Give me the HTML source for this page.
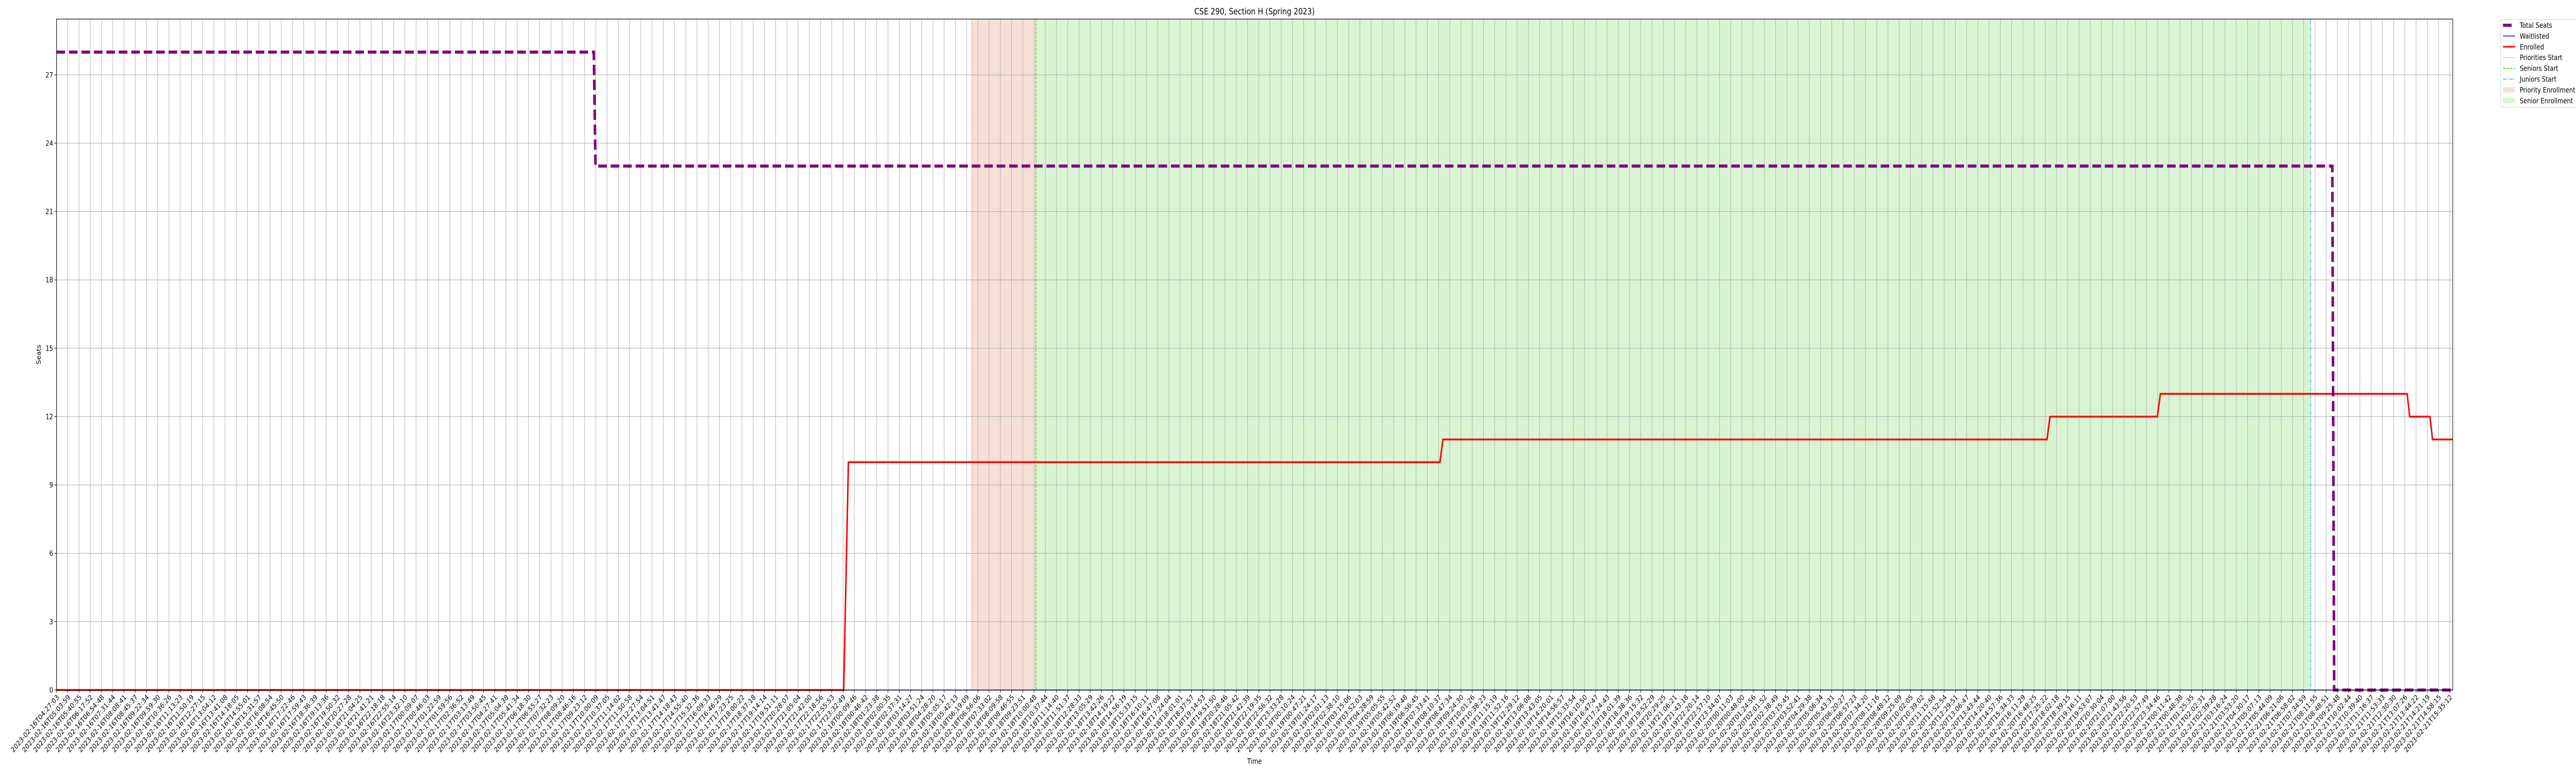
<!DOCTYPE html>
<html><head><meta charset="utf-8"><style>
html,body{margin:0;padding:0;background:#fff;width:100vw;height:100vh;overflow:hidden}
svg{display:block;width:100vw;height:100vh;overflow:hidden;font-family:"DejaVu Sans","Liberation Sans",sans-serif}
</style></head><body>
<svg id="chart" viewBox="0 0 6000 1500" preserveAspectRatio="none" xmlns="http://www.w3.org/2000/svg">
<rect width="6000" height="1500" fill="#fff"/>
<g id="bands"></g>
<g id="grid"></g>
<g id="vlines"></g>
<g id="series"></g>
<g id="axes"></g>
<text x="2922" y="28" font-size="16.7" text-anchor="middle">CSE 290, Section H (Spring 2023)</text>
<text x="2922" y="1482" font-size="13.9" text-anchor="middle">Time</text>
<text transform="translate(95,688) rotate(-90)" font-size="13.9" text-anchor="middle">Seats</text>
<g id="legend"></g>
</svg>
<script>
// ---- data (x in hours since 2023-02-16T04:27:03) ----
const seatHours   = [0, 29.44, 29.53, 124.7, 124.8, 131.3];
const seatValues  = [28, 28, 23, 23, 0, 0];
const enrHours    = [0, 43.13, 43.39, 75.80, 75.97, 109.07, 109.23, 115.11, 115.28, 128.8, 128.94, 130.05, 130.19, 131.3];
const enrValues   = [0, 0, 10, 10, 11, 11, 12, 12, 13, 13, 12, 12, 11, 11];
const waitHours   = [0, 131.3];
const waitValues  = [0, 0];
const prioStart   = 50.14;
const seniorStart = 53.67;
const juniorStart = 123.51;
const yTicks      = [0, 3, 6, 9, 12, 15, 18, 21, 24, 27];
const tickCount   = 214;
const tickStartMs = Date.UTC(2023,1,16,4,27,3);
const tickEndMs   = Date.UTC(2023,1,21,15,35,12);
const tickLabels  = [];
for (let i=0;i<tickCount;i++){
  const d=new Date(tickStartMs+(tickEndMs-tickStartMs)*i/(tickCount-1));
  tickLabels.push(d.toISOString().slice(0,19));
}
const tickHours = tickLabels.map(s=>(Date.parse(s+'Z')-tickStartMs)/3600000);

// ---- axes ----
const L=131.7,R=5713,T=37,B=1339;
const xMin=0,xMax=131.3,yMin=0,yMax=29.45;
const X=h=>L+(h-xMin)/(xMax-xMin)*(R-L);
const Y=v=>B-(v-yMin)/(yMax-yMin)*(B-T);
const NS='http://www.w3.org/2000/svg';
function mk(tag,attrs,parent){const e=document.createElementNS(NS,tag);for(const k in attrs)e.setAttribute(k,attrs[k]);parent.appendChild(e);return e;}
const bands=document.getElementById('bands'),grid=document.getElementById('grid'),vl=document.getElementById('vlines'),ser=document.getElementById('series'),ax=document.getElementById('axes'),lg=document.getElementById('legend');

let r=mk('rect',{x:X(prioStart),y:T,width:X(seniorStart)-X(prioStart),height:B-T,fill:'#f6dfd4'},bands);


r=mk('rect',{x:X(seniorStart),y:T,width:X(juniorStart)-X(seniorStart),height:B-T,fill:'#d9f4d2'},bands);



tickHours.forEach((h,i)=>{
  const x=X(h);
  const g=mk('line',{x1:x,x2:x,y1:T,y2:B,stroke:'#b0b0b0','stroke-width':1.1},grid);
  
  
  mk('line',{x1:x,x2:x,y1:B,y2:B+5,stroke:'#000','stroke-width':1.1},ax);
  const t=mk('text',{transform:`translate(${x+4},${B+12}) rotate(-45)`,'font-size':13.9,'text-anchor':'end','dominant-baseline':'middle',fill:'#000'},ax);
  t.textContent=tickLabels[i];
  
  
});
yTicks.forEach(v=>{
  const y=Y(v);
  const g=mk('line',{x1:L,x2:R,y1:y,y2:y,stroke:'#b0b0b0','stroke-width':1.1},grid);
  
  
  mk('line',{x1:L-5,x2:L,y1:y,y2:y,stroke:'#000','stroke-width':1.1},ax);
  const t=mk('text',{x:L-8,y:y+5,'font-size':13.9,'text-anchor':'end'},ax);
  t.textContent=String(v);
  
  
});

let v=mk('line',{x1:X(prioStart),x2:X(prioStart),y1:T,y2:B,stroke:'#e46c3a','stroke-width':1.5,'stroke-dasharray':'1.5,2.5'},vl);


v=mk('line',{x1:X(seniorStart),x2:X(seniorStart),y1:T,y2:B,stroke:'#3ccb1c','stroke-width':1.5,'stroke-dasharray':'5.5,2.5'},vl);


v=mk('line',{x1:X(juniorStart),x2:X(juniorStart),y1:T,y2:B,stroke:'#17c3cf','stroke-width':1.5,'stroke-dasharray':'9,2.5,1.5,2.5'},vl);



const pts=(hs,vs)=>hs.map((h,i)=>X(h).toFixed(1)+','+Y(vs[i]).toFixed(1)).join(' ');
let p=mk('polyline',{points:pts(waitHours,waitValues),fill:'none',stroke:'#0000ff','stroke-width':1.5},ser);


p=mk('polyline',{points:pts(enrHours,enrValues),fill:'none',stroke:'#ff0000','stroke-width':3.5,'stroke-linejoin':'miter'},ser);


p=mk('polyline',{points:pts(seatHours,seatValues),fill:'none',stroke:'#800080','stroke-width':6,'stroke-dasharray':'20,9'},ser);



mk('rect',{x:L,y:T,width:R-L,height:B-T,fill:'none',stroke:'#000','stroke-width':1.2},ax);

// legend
mk('rect',{x:5824.5,y:37.5,width:180,height:171,rx:3,fill:'#fff','fill-opacity':0.8,stroke:'#d0d0d0'},lg);
const items=[
 ['Total Seats','legend-total-seats',{stroke:'#800080','stroke-width':6},0],
 ['Waitlisted','legend-waitlisted',{stroke:'#0000ff','stroke-width':1.5},0],
 ['Enrolled','legend-enrolled',{stroke:'#ff0000','stroke-width':3},0],
 ['Priorities Start','legend-priorities-start',{stroke:'#e46c3a','stroke-width':1.5,'stroke-dasharray':'1.5,2.5'},0],
 ['Seniors Start','legend-seniors-start',{stroke:'#3ccb1c','stroke-width':1.5,'stroke-dasharray':'5.5,2.5'},0],
 ['Juniors Start','legend-juniors-start',{stroke:'#17c3cf','stroke-width':1.5,'stroke-dasharray':'9,2.5,1.5,2.5'},0],
 ['Priority Enrollment','legend-priority-enrollment',null,'#f6dfd4'],
 ['Senior Enrollment','legend-senior-enrollment',null,'#d9f4d2']
];
items.forEach((it,i)=>{
  const y=49+i*20.9;
  const g=mk('g',{},lg);
  
  
  if(it[2]){
    const a=Object.assign({x1:5830,x2:5858,y1:y,y2:y},it[2]);
    if(i===0){a.x2=5850;}
    mk('line',a,g);
  } else {
    mk('rect',{x:5830,y:y-5,width:28,height:10,fill:it[3]},g);
  }
  const t=mk('text',{x:5869,y:y+5,'font-size':13.9},g);
  t.textContent=it[0];
});
</script>
</body></html>
